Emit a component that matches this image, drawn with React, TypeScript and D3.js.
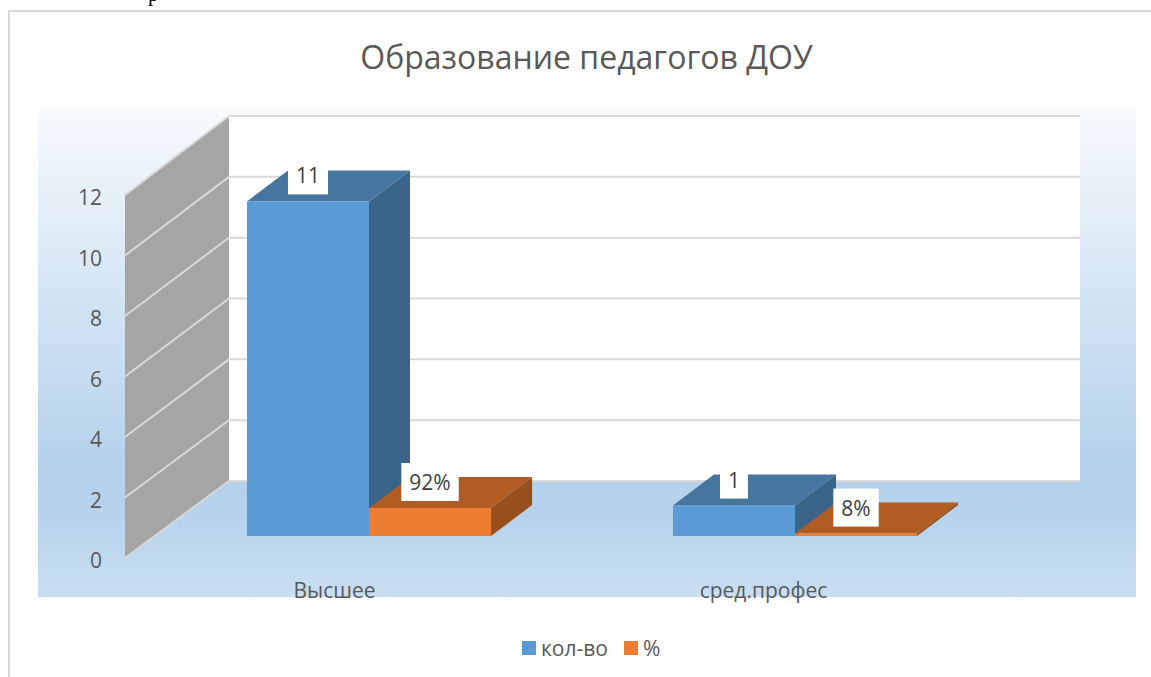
import React, { useEffect, useRef } from 'react';
import * as d3 from 'd3';

const titleText = 'Образование педагогов ДОУ';
const categories = ['Высшее', 'сред.профес'];
const seriesNames = ['кол-во', '%'];
const countValues = [11, 1];
const percentValues = [0.92, 0.08];
const countLabels = ['11', '1'];
const percentLabels = ['92%', '8%'];
const axisTicks = [0, 2, 4, 6, 8, 10, 12];

const FONT = '"Open Sans", sans-serif';
const faces = [
  { front: '#5b9bd5', top: '#4675a0', side: '#3a6588' },
  { front: '#ed7d31', top: '#b15c22', side: '#974f1e' },
];

export default function App() {
  const ref = useRef<SVGSVGElement>(null);

  useEffect(() => {
    const svg = d3.select(ref.current);
    svg.selectAll('*').remove();

    const defs = svg.append('defs');
    const grad = defs.append('linearGradient').attr('id', 'plotBg').attr('x1', 0).attr('y1', 0).attr('x2', 0).attr('y2', 1);
    grad.append('stop').attr('offset', '0%').attr('stop-color', '#f6fafd');
    grad.append('stop').attr('offset', '74%').attr('stop-color', '#b4d1eb');
    grad.append('stop').attr('offset', '83%').attr('stop-color', '#b6d2ec');
    grad.append('stop').attr('offset', '100%').attr('stop-color', '#c9dff2');

    // scales: the "3d" is just a front and a back plane of the same axis
    const yFront = d3.scaleLinear().domain([0, 12]).range([558, 195]);
    const yBack = d3.scaleLinear().domain([0, 12]).range([481, 116]);
    const yBar = d3.scaleLinear().domain([0, 12]).range([536, 171]);
    const x0 = d3.scaleBand<string>().domain(categories).range([156, 1008]).paddingInner(0.427).paddingOuter(0.2135);
    const x1 = d3.scaleBand<string>().domain(seriesNames).range([0, x0.bandwidth()]);
    const xLabel = d3.scalePoint<string>().domain(categories).range([334.5, 763.5]);
    const wallX = 125, backX = 229, backRight = 1080;
    const depthX = 41, depthY = -31;

    // frame
    svg.append('path').attr('d', 'M9,677V11H1151').attr('fill', 'none').attr('stroke', '#d9d9d9').attr('stroke-width', 2);

    // stray text line of the page above the chart
    svg.append('text').attr('x', 148).attr('y', 0.5).attr('font-family', '"Liberation Serif", serif').attr('font-size', 21).attr('fill', '#000').text('р');

    svg.append('text').attr('x', 586.5).attr('y', 69).attr('text-anchor', 'middle').attr('font-family', FONT)
      .attr('font-size', 32).attr('fill', '#595959').text(titleText);

    svg.append('rect').attr('x', 38).attr('y', 109).attr('width', 1098).attr('height', 488).attr('fill', 'url(#plotBg)');

    // back wall and floor edge
    svg.append('rect').attr('x', backX).attr('y', yBack(12)).attr('width', backRight - backX).attr('height', yBack(0) - yBack(12)).attr('fill', '#fff');

    // left wall
    svg.append('path')
      .attr('d', `M${wallX},${yFront(0)}L${backX},${yBack(0)}V${yBack(12)}L${wallX},${yFront(12)}Z`)
      .attr('fill', '#a5a5a5');

    const grid = svg.append('g').attr('stroke', '#d9d9d9').attr('stroke-width', 2).attr('fill', 'none');
    axisTicks.forEach((t) => {
      grid.append('path').attr('d', `M${wallX},${yFront(t)}L${backX},${yBack(t)}H${backRight}`);
    });

    // bars
    const drawBar = (x: number, w: number, value: number, f: typeof faces[0]) => {
      const yt = yBar(value), yb = yBar(0);
      const g = svg.append('g');
      g.append('path').attr('d', `M${x},${yt}l${depthX},${depthY}h${w}l${-depthX},${-depthY}Z`).attr('fill', f.top);
      g.append('path').attr('d', `M${x + w},${yt}l${depthX},${depthY}V${yb + depthY}l${-depthX},${-depthY}Z`).attr('fill', f.side);
      g.append('rect').attr('x', x).attr('y', yt).attr('width', w).attr('height', yb - yt).attr('fill', f.front);
    };

    const labelRows: { cx: number; top: number; text: string }[] = [];
    categories.forEach((c, i) => {
      [countValues[i], percentValues[i]].forEach((v, s) => {
        const name = seriesNames[s];
        const x = (x0(c) as number) + (x1(name) as number);
        drawBar(x, x1.bandwidth(), v, faces[s]);
        labelRows.push({
          cx: x + x1.bandwidth() / 2,
          top: yBar(v),
          text: s === 0 ? countLabels[i] : percentLabels[i],
        });
      });
    });

    // data labels on white boxes, box width follows the text
    labelRows.forEach((d) => {
      const g = svg.append('g').attr('transform', `translate(${d.cx},${d.top - 26})`);
      const box = g.append('rect').attr('fill', '#fff');
      const txt = g.append('text').attr('text-anchor', 'middle').attr('y', 8).attr('font-family', FONT)
        .attr('font-size', 21).attr('fill', '#404040').text(d.text);
      const w = (txt.node() as SVGTextElement).getComputedTextLength() + 16;
      box.attr('x', -w / 2).attr('y', -19).attr('width', w).attr('height', 38);
    });

    // value axis, on the front plane
    const axis = svg.append('g').attr('transform', 'translate(102,3)').call(d3.axisLeft(yFront).tickValues(axisTicks).tickSize(0).tickPadding(0));
    axis.select('.domain').remove();
    axis.selectAll('text').attr('font-family', FONT).attr('font-size', 21).attr('fill', '#595959');

    // category labels
    svg.append('g').selectAll('text').data(categories).enter().append('text')
      .attr('x', (d) => xLabel(d) as number)
      .attr('y', 598)
      .attr('text-anchor', 'middle')
      .attr('font-family', FONT)
      .attr('font-size', 21)
      .attr('fill', '#595959')
      .text((d) => d);

    // legend
    const legendX = [522, 624];
    seriesNames.forEach((name, i) => {
      svg.append('rect').attr('x', legendX[i]).attr('y', 641).attr('width', 14).attr('height', 14).attr('fill', faces[i].front);
      svg.append('text').attr('x', legendX[i] + 19).attr('y', 656).attr('font-family', FONT).attr('font-size', 21).attr('fill', '#595959').text(name);
    });
  }, []);

  return <svg ref={ref} width={1151} height={677} viewBox="0 0 1151 677" style={{ position: 'absolute', left: 0, top: 0 }} />;
}
